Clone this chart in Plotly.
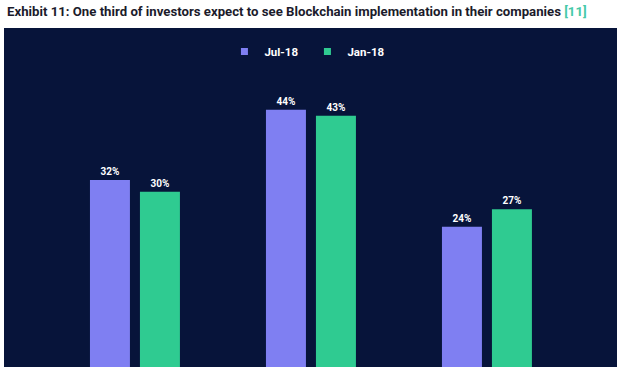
import plotly.graph_objects as go

categories = ["Within 1 year", "Within 2-3 years", "Not expected"]
jul18 = [32, 44, 24]
jan18 = [30, 43, 27]
series_names = ["Jul-18", "Jan-18"]
title_text = "Exhibit 11: One third of investors expect to see Blockchain implementation in their companies"
ref_text = "[11]"

PURPLE = "#7f7ff2"
GREEN = "#2fcb91"
PANEL = "#07143a"

fig = go.Figure()
for name, vals, col in [(series_names[0], jul18, PURPLE), (series_names[1], jan18, GREEN)]:
    fig.add_trace(go.Bar(
        name=name, x=categories, y=vals, marker_color=col, marker_line_width=0,
        text=[f"{v}%" for v in vals], textposition="outside", cliponaxis=False,
        textfont=dict(color="white", size=10, family="Roboto", weight="bold"),
        showlegend=False,
    ))
# legend entries (small square markers)
for name, col in [(series_names[0], PURPLE), (series_names[1], GREEN)]:
    fig.add_trace(go.Scatter(
        name=name, x=[None], y=[None], mode="markers",
        marker=dict(symbol="square", size=7, color=col), showlegend=True,
    ))

fig.update_layout(
    width=625, height=367,
    paper_bgcolor="white", plot_bgcolor=PANEL,
    margin=dict(l=4, r=8, t=28, b=0, autoexpand=False),
    barmode="group", bargap=0.432, bargroupgap=0.2,
    showlegend=True,
    legend=dict(orientation="h", x=0.495, xanchor="center", y=0.931, yanchor="middle",
                font=dict(color="white", size=11.5, family="Roboto", weight="bold"),
                itemwidth=30, entrywidth=38, traceorder="normal", tracegroupgap=0,
                bgcolor="rgba(0,0,0,0)"),
    xaxis=dict(range=[-0.744, 2.739], showticklabels=False, showgrid=False, zeroline=False, showline=False),
    yaxis=dict(range=[0, 58], showticklabels=False, showgrid=False, zeroline=False, showline=False),
)
fig.add_annotation(
    xref="paper", yref="paper", x=0, y=1, yshift=17, xshift=1, xanchor="left", yanchor="middle",
    text=f"<b>{title_text} <span style='color:#45c9a8'>{ref_text}</span></b>",
    showarrow=False, font=dict(size=13.2, color="#1b1b2b", family="Roboto"),
)
fig.write_html("out.html", config={"displayModeBar": False},
               post_script="document.body.style.margin='0';document.body.style.overflow='hidden';")
